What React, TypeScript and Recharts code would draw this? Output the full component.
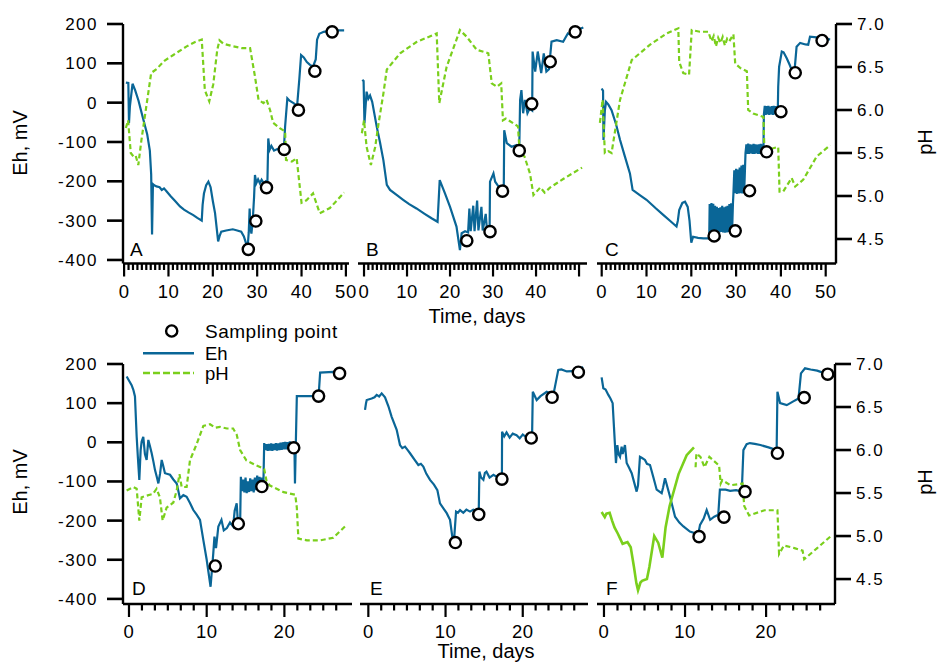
import React from "react";
import { ComposedChart, Line, Scatter, XAxis, YAxis } from "recharts";

const FONT = '"Liberation Sans", Arial, Helvetica, sans-serif';
const BLUE = "#0a6697";
const GREEN = "#7acf1c";

// ---------- tick labels ----------
const ehTicks = [-400, -300, -200, -100, 0, 100, 200];
const phTicks = [4.5, 5.0, 5.5, 6.0, 6.5, 7.0];
const longMajor = [0, 10, 20, 30, 40, 50];
const longLabelsB = [0, 10, 20, 30, 40];
const shortMajor = [0, 10, 20];
const shortMinor = [1.667, 3.333, 5, 6.667, 8.333, 11.667, 13.333, 15, 16.667, 18.333, 21.667, 23.333, 25, 26.667];
const longMinor = Array.from({ length: 50 }, (_, i) => i).filter((d) => d % 10 !== 0);

// ---------- Panel A ----------
const ehA = [[0.4,51],[0.95,50],[1.1,-52],[1.3,-10],[1.9,48],[2.5,31],[3.25,5],[4.2,-37],[5.2,-80],[5.8,-122],[6.1,-182],[6.3,-335],[6.5,-207],[6.8,-210],[7.3,-213],[8.0,-215],[8.5,-222],[9.0,-218],[9.6,-226],[10.5,-238],[11.5,-250],[12.6,-264],[13.5,-272],[14.5,-279],[15.6,-286],[16.5,-293],[17.5,-300],[17.7,-260],[18.0,-231],[18.5,-210],[19.0,-201],[19.5,-215],[20.0,-250],[20.5,-281],[21.2,-353],[21.5,-340],[21.9,-328],[23.0,-325],[24.5,-322],[25.5,-325],[26.4,-328],[27.0,-340],[27.5,-358],[27.9,-360],[28.1,-330],[28.3,-269],[28.5,-320],[28.7,-333],[29.0,-300],[29.3,-240],[29.5,-184],[29.8,-205],[30.2,-195],[30.6,-205],[31.0,-196],[31.5,-205],[31.9,-200],[32.3,-205],[32.5,-91],[32.8,-120],[33.2,-110],[33.8,-122],[34.5,-118],[35.3,-120],[36.0,-122],[36.3,-60],[36.8,11],[37.3,5],[38.2,-1],[39.0,-8],[39.5,60],[39.9,121],[40.5,115],[41.2,103],[41.9,96],[42.6,92],[43.2,110],[43.5,160],[44.0,175],[45.0,180],[46.5,183],[48.0,184],[49.6,184]];
const phA = [[0.4,5.79],[0.9,5.88],[1.5,5.50],[2.1,5.46],[2.6,5.47],[3.2,5.36],[3.9,5.65],[5.0,6.04],[6.1,6.43],[7.4,6.48],[9.0,6.57],[11.1,6.64],[14.1,6.74],[16.0,6.79],[17.5,6.82],[18.2,6.23],[19.2,6.10],[20.1,6.30],[21.0,6.70],[21.5,6.81],[22.4,6.77],[24.6,6.74],[26.5,6.72],[28.4,6.72],[29.5,6.39],[30.3,6.12],[31.4,6.08],[32.1,6.12],[32.9,6.0],[33.6,5.85],[35.1,5.79],[36.3,5.75],[36.5,5.42],[37.8,5.40],[38.9,5.44],[40.0,4.92],[41.1,4.95],[42.6,5.03],[44.1,4.80],[46.4,4.86],[49.6,5.04]];
const sampA = [[28.0,-373],[29.7,-301],[32.1,-216],[36.1,-119],[39.3,-19],[43.0,80],[46.9,180]];

// ---------- Panel B ----------
const ehB = [[-0.4,58],[-0.1,55],[0.1,-52],[0.3,-20],[0.6,28],[1.0,10],[1.4,18],[1.9,2],[2.95,-61],[3.7,-100],[4.5,-146],[5.3,-209],[6.05,-222],[7.5,-234],[9.1,-247],[10.5,-258],[12.2,-269],[14.0,-282],[15.7,-294],[17.1,-303],[17.6,-197],[18.8,-230],[20.0,-265],[21.5,-315],[22.3,-375],[22.7,-332],[23.5,-327],[24.2,-330],[24.5,-269],[24.8,-327],[25.4,-262],[25.7,-327],[26.3,-249],[26.6,-325],[27.3,-265],[27.6,-325],[28.3,-283],[28.6,-325],[29.2,-326],[29.3,-201],[30.1,-180],[30.5,-201],[31.2,-212],[32.0,-218],[32.5,-215],[32.6,-70],[33.2,-103],[34.3,-112],[35.5,-108],[36.1,-115],[36.3,7],[36.6,32],[37.0,-27],[37.4,7],[38.0,-27],[38.5,-15],[39.1,-20],[39.2,130],[39.8,79],[40.4,130],[41.2,75],[41.8,125],[42.4,79],[43.0,85],[43.6,155],[44.8,159],[46.3,155],[47.4,176],[48.2,172],[49.5,185],[51.0,191]];
const phB = [[-0.5,5.73],[0.0,5.88],[0.6,5.57],[1.6,5.36],[2.6,5.57],[3.4,5.85],[4.5,6.19],[5.3,6.47],[8.4,6.66],[12.2,6.79],[16.9,6.89],[17.5,6.08],[19.2,6.50],[22.3,6.93],[23.9,6.85],[26.2,6.70],[28.9,6.66],[29.7,6.31],[30.9,6.27],[31.9,6.31],[32.3,5.88],[33.0,5.90],[35.8,5.81],[36.2,5.50],[37.3,5.46],[38.6,5.26],[39.4,5.01],[41.0,5.10],[42.0,5.04],[43.3,5.10],[46.4,5.20],[50.7,5.33]];
const sampB = [[23.9,-351],[29.3,-328],[32.2,-225],[36.1,-122],[39.0,-3],[43.3,104],[49.1,180]];

// ---------- Panel C ----------
const ehC = [[0,36],[0.3,30],[0.4,-95],[0.7,-20],[0.97,2],[1.5,-5],[2.2,-19],[3.2,-55],[4.1,-95],[5.2,-138],[6.3,-180],[6.9,-222],[8.5,-235],[10.0,-247],[12.0,-268],[13.8,-286],[15.3,-301],[16.7,-315],[17.0,-300],[17.3,-273],[18.0,-255],[18.6,-252],[19.2,-265],[19.6,-300],[20.0,-356],[20.4,-341],[21.5,-344],[22.7,-345],[24.0,-345],[24.1,-258],[24.3,-330],[24.5,-255],[24.7,-331],[24.9,-257],[25.1,-330],[25.3,-262],[25.5,-329],[25.7,-265],[25.9,-331],[26.1,-268],[26.3,-330],[26.5,-266],[26.7,-329],[26.9,-262],[27.1,-330],[27.3,-266],[27.5,-331],[27.7,-264],[27.9,-330],[28.1,-262],[28.3,-329],[28.5,-258],[28.7,-330],[28.9,-256],[29.1,-330],[29.3,-255],[29.4,-232],[29.6,-172],[29.8,-230],[30.0,-168],[30.2,-232],[30.4,-170],[30.6,-231],[30.8,-165],[31.0,-230],[31.2,-160],[31.4,-231],[31.6,-158],[31.8,-230],[32.0,-162],[32.1,-128],[32.3,-106],[32.5,-130],[32.7,-104],[32.9,-130],[33.1,-106],[33.3,-129],[33.5,-107],[33.7,-130],[33.9,-105],[34.1,-130],[34.3,-106],[34.5,-129],[34.7,-107],[34.9,-130],[35.1,-106],[35.3,-130],[35.5,-105],[35.7,-129],[35.9,-106],[36.1,-128],[36.2,-30],[36.4,-8],[36.6,-31],[36.8,-9],[37.0,-30],[37.2,-8],[37.4,-31],[37.6,-10],[37.8,-30],[38.0,-9],[38.2,-31],[38.4,-8],[38.6,-30],[38.8,-9],[39.0,-31],[39.2,-10],[39.3,-25],[39.4,40],[39.6,91],[40.2,130],[40.6,128],[41.3,113],[42.0,95],[42.4,83],[43.0,75],[43.5,142],[44.3,152],[45.5,148],[46.1,147],[46.5,168],[48.0,166],[49.5,162],[51.0,161]];
const phC = [[-0.4,5.85],[0.2,6.12],[0.7,5.50],[1.5,5.52],[2.2,5.50],[4.1,6.12],[6.7,6.58],[10.8,6.76],[14.5,6.89],[17.1,6.95],[17.3,6.56],[18.2,6.43],[19.5,6.41],[20.1,6.93],[21.9,6.91],[23.8,6.91],[24.5,6.80],[25.0,6.86],[25.5,6.74],[26.0,6.84],[26.5,6.78],[27.0,6.85],[27.5,6.75],[28.0,6.83],[28.5,6.80],[29.4,6.88],[29.8,6.54],[30.9,6.49],[32.4,6.45],[32.7,6.0],[33.8,5.96],[36.1,5.92],[36.3,5.57],[37.9,5.55],[39.4,5.57],[39.7,5.05],[40.5,5.05],[42.4,5.21],[43.2,5.11],[45.0,5.19],[48.0,5.46],[51.0,5.59]];
const sampC = [[25.1,-339],[29.8,-326],[33.0,-224],[36.8,-125],[40.0,-23],[43.2,76],[49.2,158]];

// ---------- Panel D ----------
const ehD = [[-0.3,168],[0.34,146],[0.56,134],[0.77,117],[0.99,14],[1.15,-40],[1.33,-96],[1.5,-20],[1.63,2],[1.84,14],[2.05,-30],[2.27,-45],[2.49,6],[2.7,-10],[2.92,-28],[3.15,-50],[3.35,-71],[3.6,-90],[3.78,-105],[4.0,-80],[4.21,-45],[4.4,-60],[4.63,-79],[5.28,-83],[5.71,-95],[6.14,-105],[6.56,-143],[7.0,-135],[7.42,-139],[7.85,-155],[8.28,-173],[8.71,-185],[9.14,-198],[9.57,-250],[10.0,-300],[10.5,-369],[10.85,-283],[11.0,-241],[11.2,-270],[11.5,-215],[11.9,-198],[12.2,-225],[12.6,-219],[13.0,-205],[13.4,-215],[13.6,-175],[13.86,-156],[14.0,-200],[14.3,-215],[14.4,-88],[14.55,-125],[14.7,-95],[14.85,-128],[15.0,-90],[15.15,-130],[15.3,-100],[15.45,-127],[15.6,-92],[15.75,-125],[15.9,-95],[16.05,-128],[16.2,-90],[16.35,-122],[16.5,-85],[16.65,-120],[16.8,-88],[16.95,-118],[17.1,-90],[17.3,-105],[17.4,-2],[17.55,-20],[17.7,-5],[17.85,-22],[18.0,-4],[18.15,-21],[18.3,-3],[18.45,-22],[18.6,-4],[18.75,-20],[18.9,-2],[19.05,-21],[19.2,-3],[19.35,-20],[19.5,-1],[19.65,-19],[19.8,0],[19.95,-18],[20.1,1],[20.25,-18],[20.4,0],[20.55,-17],[20.7,2],[20.85,-16],[21.0,0],[21.15,-15],[21.3,-20],[21.36,-105],[21.6,118],[23.3,118],[24.4,118],[24.6,178],[26.3,180],[27.5,179]];
const phD = [[-0.3,5.53],[0.56,5.57],[0.99,5.55],[1.33,5.18],[1.63,5.45],[2.27,5.47],[3.1,5.49],[3.55,5.55],[3.98,5.45],[4.33,5.18],[4.84,5.33],[5.71,5.39],[6.14,5.53],[6.5,5.72],[6.78,5.57],[7.42,5.57],[7.85,5.88],[8.71,6.07],[9.57,6.28],[10.43,6.30],[11.1,6.26],[11.7,6.27],[12.6,6.25],[13.4,6.25],[13.86,6.18],[14.3,6.0],[15.1,5.88],[16.4,5.82],[17.4,5.78],[17.7,5.64],[18.1,5.59],[19.9,5.51],[21.4,5.48],[21.6,5.33],[21.8,4.97],[22.9,4.95],[24.6,4.95],[26.3,4.98],[28.0,5.13]];
const sampD = [[11.1,-316],[14.07,-208],[17.1,-113],[21.2,-14],[24.4,118],[27.1,176]];

// ---------- Panel E ----------
const ehE = [[-0.43,83],[-0.3,100],[-0.21,108],[0.43,112],[0.8,115],[1.08,121],[1.4,117],[1.73,125],[2.16,115],[2.6,92],[3.02,65],[3.67,32],[4.1,-7],[4.4,-15],[4.75,-11],[5.1,-20],[5.4,-28],[6.0,-45],[6.48,-58],[6.8,-55],[7.12,-62],[7.5,-80],[7.99,-96],[8.5,-108],[8.94,-122],[9.28,-156],[9.7,-168],[10.15,-181],[10.58,-198],[10.93,-249],[11.1,-250],[11.36,-177],[11.6,-180],[11.88,-173],[12.3,-180],[12.7,-172],[13.17,-177],[13.6,-172],[14.0,-175],[14.3,-178],[14.38,-75],[14.6,-90],[14.9,-96],[15.1,-78],[15.3,-75],[15.7,-90],[16.2,-83],[16.6,-88],[17.06,-88],[17.3,-90],[17.32,27],[17.6,15],[17.9,25],[18.3,12],[18.7,22],[19.2,18],[19.6,10],[20.0,20],[20.5,12],[20.9,10],[21.2,8],[21.3,129],[21.8,108],[22.3,118],[23.1,129],[23.6,125],[24.0,125],[24.6,185],[25.0,186],[25.7,181],[26.5,182],[27.2,183],[27.8,193]];
const sampE = [[11.27,-256],[14.3,-184],[17.3,-94],[21.1,11],[23.8,115],[27.2,179]];

// ---------- Panel F ----------
const ehF = [[-0.29,166],[-0.08,138],[0.2,135],[0.54,121],[0.8,112],[1.07,100],[1.23,40],[1.48,-53],[1.65,-7],[1.8,-30],[1.98,-37],[2.18,-11],[2.3,-30],[2.59,-7],[2.8,-53],[3.1,-65],[3.42,-79],[4.03,-126],[4.2,-110],[4.44,-37],[4.7,-40],[5.06,-45],[5.3,-55],[5.68,-58],[6.1,-90],[6.5,-121],[7.12,-130],[7.3,-115],[7.53,-92],[8.15,-139],[8.77,-190],[9.3,-205],[9.8,-215],[10.6,-228],[11.23,-232],[11.6,-238],[11.85,-211],[12.3,-195],[12.67,-173],[13.1,-198],[13.6,-190],[14.1,-185],[14.3,-121],[15.0,-121],[15.56,-124],[16.3,-122],[17.0,-126],[17.2,-20],[17.6,-5],[18.0,-2],[18.6,-4],[19.3,-7],[20.3,-13],[21.3,-20],[21.4,129],[21.73,100],[22.55,95],[23.3,104],[24.0,112],[24.3,176],[24.8,189],[25.5,186],[26.3,183],[27.0,178],[27.6,174]];
const phFsolid = [[-0.29,5.28],[0.1,5.22],[0.3,5.26],[0.7,5.27],[1.0,5.18],[1.3,5.10],[1.7,5.03],[2.0,4.97],[2.3,4.91],[2.9,4.93],[3.3,4.87],[3.7,4.64],[4.0,4.45],[4.2,4.37],[4.5,4.46],[4.7,4.48],[5.3,4.50],[5.6,4.64],[6.2,5.0],[6.7,4.92],[7.2,4.75],[7.6,5.10],[8.1,5.35],[9.2,5.72],[10.2,5.94],[11.1,6.03]];
const phFdash = [[11.3,5.80],[11.4,5.96],[11.9,5.92],[12.4,5.80],[13.0,5.92],[14.2,5.82],[14.4,5.61],[14.6,5.65],[15.6,5.59],[17.1,5.61],[17.3,5.35],[17.9,5.24],[19.8,5.30],[21.4,5.30],[21.6,4.79],[22.2,4.89],[23.5,4.86],[24.5,4.83],[24.7,4.73],[26.3,4.86],[28.0,5.00]];
const sampF = [[11.73,-241],[14.8,-191],[17.4,-126],[21.4,-28],[24.7,114],[27.6,174]];

const toPts = (a: number[][]) => a.map(([t, v]) => ({ t, v }));

type Seg = { data: number[][]; dashed: boolean };
type PanelCfg = {
  id: string;
  plotLeft: number; plotTop: number; plotW: number; plotH: number;
  xDomain: [number, number];
  major: number[]; labels: number[]; minor: number[];
  ehDomain: [number, number]; phDomain: [number, number];
  showLeft: boolean; showRight: boolean;
  eh: number[][]; ph: Seg[]; samp: number[][];
};

const ROW1 = { top: 24, h: 239.5, eh: [-409, 200] as [number, number], ph: [4.215, 7] as [number, number] };
const ROW2 = { top: 363.5, h: 240, eh: [-413, 200] as [number, number], ph: [4.21, 7] as [number, number] };

const panels: PanelCfg[] = [
  { id: "A", plotLeft: 123, plotTop: ROW1.top, plotW: 226, plotH: ROW1.h, xDomain: [-0.25, 50.7], major: longMajor, labels: longMajor, minor: longMinor, ehDomain: ROW1.eh, phDomain: ROW1.ph, showLeft: true, showRight: false, eh: ehA, ph: [{ data: phA, dashed: true }], samp: sampA },
  { id: "B", plotLeft: 358, plotTop: ROW1.top, plotW: 229, plotH: ROW1.h, xDomain: [-1.4, 51.85], major: longMajor, labels: longLabelsB, minor: longMinor, ehDomain: ROW1.eh, phDomain: ROW1.ph, showLeft: false, showRight: false, eh: ehB, ph: [{ data: phB, dashed: true }], samp: sampB },
  { id: "C", plotLeft: 597, plotTop: ROW1.top, plotW: 239, plotH: ROW1.h, xDomain: [-1.05, 52.3], major: longMajor, labels: longMajor, minor: longMinor, ehDomain: ROW1.eh, phDomain: ROW1.ph, showLeft: false, showRight: true, eh: ehC, ph: [{ data: phC, dashed: true }], samp: sampC },
  { id: "D", plotLeft: 123, plotTop: ROW2.top, plotW: 229, plotH: ROW2.h, xDomain: [-0.77, 28.7], major: shortMajor, labels: shortMajor, minor: shortMinor, ehDomain: ROW2.eh, phDomain: ROW2.ph, showLeft: true, showRight: false, eh: ehD, ph: [{ data: phD, dashed: true }], samp: sampD },
  { id: "E", plotLeft: 360, plotTop: ROW2.top, plotW: 228, plotH: ROW2.h, xDomain: [-1.08, 28.45], major: shortMajor, labels: shortMajor, minor: shortMinor, ehDomain: ROW2.eh, phDomain: ROW2.ph, showLeft: false, showRight: false, eh: ehE, ph: [], samp: sampE },
  { id: "F", plotLeft: 597, plotTop: ROW2.top, plotW: 238, plotH: ROW2.h, xDomain: [-0.86, 28.5], major: shortMajor, labels: shortMajor, minor: shortMinor, ehDomain: ROW2.eh, phDomain: ROW2.ph, showLeft: false, showRight: true, eh: ehF, ph: [{ data: phFsolid, dashed: false }, { data: phFdash, dashed: true }], samp: sampF },
];

const AXIS = { stroke: "#000", strokeWidth: 2.4 };

function Panel(p: PanelCfg) {
  const padL = p.showLeft ? p.plotLeft : 8;
  const padR = p.showRight ? 100 : 8;
  const padT = 14;
  const padB = 44;
  const W = padL + p.plotW + padR;
  const H = padT + p.plotH + padB;
  const ticks = [...p.minor, ...p.major].sort((a, b) => a - b);
  const renderTick = (tp: any) => {
    const { x, y, payload } = tp;
    const v = payload.value;
    const isMajor = p.major.some((m) => Math.abs(m - v) < 1e-6);
    const hasLabel = p.labels.some((m) => Math.abs(m - v) < 1e-6);
    return (
      <g>
        <line x1={x} y1={y} x2={x} y2={y + (isMajor ? 13 : 6.5)} stroke="#000" strokeWidth={2.2} />
        {hasLabel && (
          <text x={x} y={y + 34} textAnchor="middle" fontSize={18.5} fontFamily={FONT} fill="#000" letterSpacing={0.5}>
            {v}
          </text>
        )}
      </g>
    );
  };
  return (
    <div style={{ position: "absolute", left: p.plotLeft - padL, top: p.plotTop - padT }}>
      <ComposedChart
        width={W}
        height={H}
        margin={{ top: padT, bottom: 0, left: p.showLeft ? 0 : padL, right: p.showRight ? 0 : padR }}
      >
        <XAxis
          dataKey="t"
          type="number"
          domain={p.xDomain}
          allowDataOverflow
          ticks={ticks}
          interval={0}
          tickSize={0}
          tickMargin={0}
          tickLine={false}
          axisLine={AXIS}
          tick={renderTick}
          height={padB}
        />
        <YAxis
          yAxisId="eh"
          type="number"
          domain={p.ehDomain}
          allowDataOverflow
          ticks={ehTicks}
          interval={0}
          hide={!p.showLeft}
          width={p.showLeft ? padL : 0}
          axisLine={AXIS}
          tickLine={{ stroke: "#000", strokeWidth: 2.6 }}
          tickSize={16}
          tickMargin={9}
          tick={{ fontSize: 17, fill: "#000", fontFamily: FONT, letterSpacing: 1.5 }}
        />
        <YAxis
          yAxisId="ph"
          orientation="right"
          type="number"
          domain={p.phDomain}
          allowDataOverflow
          ticks={phTicks}
          interval={0}
          hide={!p.showRight}
          width={p.showRight ? padR : 0}
          axisLine={AXIS}
          tickLine={{ stroke: "#000", strokeWidth: 2.6 }}
          tickSize={16}
          tickMargin={5}
          tickFormatter={(v: number) => v.toFixed(1)}
          tick={{ fontSize: 17, fill: "#000", fontFamily: FONT, letterSpacing: 1.5 }}
        />
        <Line
          yAxisId="eh"
          data={toPts(p.eh)}
          dataKey="v"
          type="linear"
          stroke={BLUE}
          strokeWidth={2.2}
          dot={false}
          isAnimationActive={false}
        />
        {p.ph.map((s, i) => (
          <Line
            key={i}
            yAxisId="ph"
            data={toPts(s.data)}
            dataKey="v"
            type="linear"
            stroke={GREEN}
            strokeWidth={s.dashed ? 2.2 : 2.6}
            strokeDasharray={s.dashed ? "5 3" : undefined}
            dot={false}
            isAnimationActive={false}
          />
        ))}
        <Scatter
          yAxisId="eh"
          data={toPts(p.samp)}
          dataKey="v"
          isAnimationActive={false}
          shape={(sp: any) => (
            <circle cx={sp.cx} cy={sp.cy} r={5.6} fill="#fff" stroke="#000" strokeWidth={2.4} />
          )}
        />
      </ComposedChart>
    </div>
  );
}

const panelLetters = [
  { t: "A", x: 130, y: 256 },
  { t: "B", x: 366, y: 256 },
  { t: "C", x: 605, y: 256 },
  { t: "D", x: 132, y: 595 },
  { t: "E", x: 370, y: 595 },
  { t: "F", x: 606, y: 595 },
];

export default function App() {
  return (
    <div style={{ position: "absolute", left: 0, top: 0, width: 938, height: 662, background: "#fff", overflow: "hidden" }}>
      {panels.map((p) => (
        <Panel key={p.id} {...p} />
      ))}
      <svg width={938} height={662} style={{ position: "absolute", left: 0, top: 0, pointerEvents: "none" }} fontFamily={FONT}>
        <text x={20} y={143} transform="rotate(-90 20 143)" textAnchor="middle" dominantBaseline="central" fontSize={20}>Eh, mV</text>
        <text x={20} y={482} transform="rotate(-90 20 482)" textAnchor="middle" dominantBaseline="central" fontSize={20}>Eh, mV</text>
        <text x={925} y={142} transform="rotate(-90 925 142)" textAnchor="middle" dominantBaseline="central" fontSize={20}>pH</text>
        <text x={925} y={482} transform="rotate(-90 925 482)" textAnchor="middle" dominantBaseline="central" fontSize={20}>pH</text>
        <text x={477} y={323} textAnchor="middle" fontSize={20}>Time, days</text>
        <text x={486} y={658} textAnchor="middle" fontSize={20}>Time, days</text>
        {panelLetters.map((l) => (
          <text key={l.t} x={l.x} y={l.y} fontSize={19}>{l.t}</text>
        ))}
        <circle cx={171.7} cy={331} r={5.6} fill="#fff" stroke="#000" strokeWidth={2.4} />
        <text x={205} y={337.5} fontSize={19} letterSpacing={0.5}>Sampling point</text>
        <line x1={143} y1={353.3} x2={194} y2={353.3} stroke={BLUE} strokeWidth={2.4} />
        <text x={205} y={359.5} fontSize={18.5}>Eh</text>
        <line x1={143} y1={373} x2={194} y2={373} stroke={GREEN} strokeWidth={2.4} strokeDasharray="7 3" />
        <text x={205} y={379.5} fontSize={18.5}>pH</text>
      </svg>
    </div>
  );
}
